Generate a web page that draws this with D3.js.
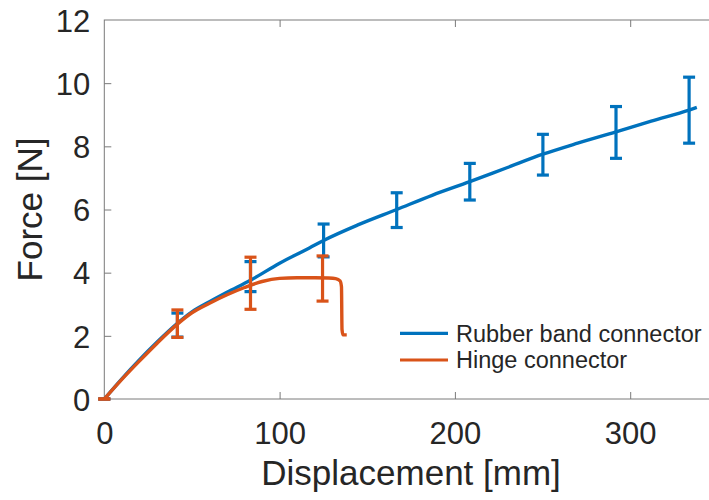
<!DOCTYPE html>
<html>
<head>
<meta charset="utf-8">
<script src="https://cdn.jsdelivr.net/npm/d3@7"></script>
<style>
  html, body { margin: 0; padding: 0; background: #fff; }
  svg { display: block; }
  text { font-family: "Liberation Sans", Arial, Helvetica, sans-serif; fill: #262626; }
</style>
</head>
<body>
<svg id="chart" width="709" height="500"></svg>
<script>
// ---- Data ----
const xTicks = [0, 100, 200, 300];
const yTicks = [0, 2, 4, 6, 8, 10, 12];
const seriesNames = ["Rubber band connector", "Hinge connector"];

// Rubber band connector: mean curve
const rubberX = [0, 10, 20, 30, 41.7, 50, 60, 70, 83.4, 100, 117, 125.1, 145, 166.8, 187, 208.5, 230, 250.2, 270, 291.9, 312, 333.6, 338];
const rubberY = [0, 0.64, 1.24, 1.8, 2.4, 2.76, 3.08, 3.38, 3.76, 4.3, 4.78, 5.02, 5.52, 6.0, 6.45, 6.88, 7.33, 7.75, 8.1, 8.46, 8.8, 9.15, 9.23];
// Rubber band connector: error bars
const rubberErrX = [0, 41.7, 83.4, 125.1, 166.8, 208.5, 250.2, 291.9, 333.6];
const rubberErrLow = [0, 1.96, 3.40, 4.50, 5.43, 6.30, 7.09, 7.62, 8.10];
const rubberErrHigh = [0, 2.72, 4.35, 5.54, 6.53, 7.46, 8.38, 9.26, 10.19];

// Hinge connector: mean curve
const hingeX = [0, 10, 20, 30, 41.7, 50, 60, 70, 80, 90, 100, 110, 120, 128, 132, 134.5, 135.3, 135.6, 136.2, 138.3];
const hingeY = [0, 0.62, 1.2, 1.76, 2.37, 2.73, 3.03, 3.3, 3.53, 3.72, 3.82, 3.84, 3.84, 3.83, 3.81, 3.74, 3.55, 2.2, 2.03, 2.03];
// Hinge connector: error bars
const hingeErrX = [0, 41.7, 83.4, 124.5];
const hingeErrLow = [0, 1.95, 2.84, 3.10];
const hingeErrHigh = [0, 2.82, 4.49, 4.53];

const colors = ["#0072BD", "#D95319"];

// ---- Layout ----
const svg = d3.select("#chart");
const mLeft = 104.3, mTop = 20, mBottom = 399;
const pxPer100 = 175.3;
const xDomain = [0, 350];
const x = d3.scaleLinear().domain(xDomain).range([mLeft, mLeft + pxPer100 * 3.5]);
const y = d3.scaleLinear().domain([0, 12]).range([mBottom, mTop]);
const mRight = x(xDomain[1]);

const axisColor = "#7a7a7a";

// Box
svg.append("rect")
  .attr("x", mLeft).attr("y", mTop)
  .attr("width", mRight - mLeft).attr("height", mBottom - mTop)
  .attr("fill", "none").attr("stroke", axisColor).attr("stroke-width", 1);

// Axes (inward ticks)
function styleAxis(g) {
  g.select(".domain").remove();
  g.selectAll(".tick line").attr("stroke", axisColor).attr("stroke-width", 1);
}
const gx = svg.append("g").attr("transform", `translate(0,${mBottom})`)
  .call(d3.axisBottom(x).tickValues(xTicks).tickSizeInner(-7).tickSizeOuter(0).tickFormat(d3.format("d")));
styleAxis(gx);
gx.selectAll(".tick text").attr("y", 45).attr("dy", null)
  .style("font-size", "31px").attr("fill", "#262626");
gx.selectAll(".tick").filter(d => d === 0).select("line").remove();

const gxt = svg.append("g").attr("transform", `translate(0,${mTop})`)
  .call(d3.axisTop(x).tickValues(xTicks).tickSizeInner(-7).tickSizeOuter(0).tickFormat(""));
styleAxis(gxt);
gxt.selectAll(".tick").filter(d => d === 0).select("line").remove();

const gy = svg.append("g").attr("transform", `translate(${mLeft},0)`)
  .call(d3.axisLeft(y).tickValues(yTicks).tickSizeInner(-7).tickSizeOuter(0).tickFormat(d3.format("d")));
styleAxis(gy);
gy.selectAll(".tick text").attr("x", -14).attr("dy", "0.36em")
  .style("font-size", "31px").attr("fill", "#262626");
gy.selectAll(".tick").filter(d => d === 0 || d === 12).select("line").remove();

// Axis labels
svg.append("text")
  .attr("x", (mLeft + mRight) / 2).attr("y", 485)
  .attr("text-anchor", "middle").style("font-size", "35px")
  .text("Displacement [mm]");
svg.append("text")
  .attr("transform", `translate(42,${(mTop + mBottom) / 2}) rotate(-90)`)
  .attr("text-anchor", "middle").style("font-size", "35px")
  .text("Force [N]");

// ---- Series ----
const line = d3.line().x(d => x(d[0])).y(d => y(d[1])).curve(d3.curveMonotoneX);

function drawSeries(xs, ys, exs, lows, highs, color) {
  const pts = xs.map((v, i) => [v, ys[i]]);
  svg.append("path").datum(pts)
    .attr("d", line).attr("fill", "none")
    .attr("stroke", color).attr("stroke-width", 3.4)
    .attr("stroke-linejoin", "round").attr("stroke-linecap", "butt");
  const eb = svg.append("g").attr("stroke", color).attr("stroke-width", 3.2).attr("fill", "none");
  const capW = 6;
  exs.forEach((ex, i) => {
    const cx = x(ex);
    eb.append("line").attr("x1", cx).attr("x2", cx).attr("y1", y(lows[i])).attr("y2", y(highs[i]));
    eb.append("line").attr("x1", cx - capW).attr("x2", cx + capW).attr("y1", y(lows[i])).attr("y2", y(lows[i]));
    eb.append("line").attr("x1", cx - capW).attr("x2", cx + capW).attr("y1", y(highs[i])).attr("y2", y(highs[i]));
  });
}
drawSeries(rubberX, rubberY, rubberErrX, rubberErrLow, rubberErrHigh, colors[0]);
drawSeries(hingeX, hingeY, hingeErrX, hingeErrLow, hingeErrHigh, colors[1]);

// ---- Legend ----
const legendY = [333.3, 360];
seriesNames.forEach((name, i) => {
  svg.append("line")
    .attr("x1", 400).attr("x2", 448).attr("y1", legendY[i]).attr("y2", legendY[i])
    .attr("stroke", colors[i]).attr("stroke-width", 3.2);
  svg.append("text")
    .attr("x", 456).attr("y", legendY[i]).attr("dy", "0.35em")
    .style("font-size", "23.5px").text(name);
});
</script>
</body>
</html>
